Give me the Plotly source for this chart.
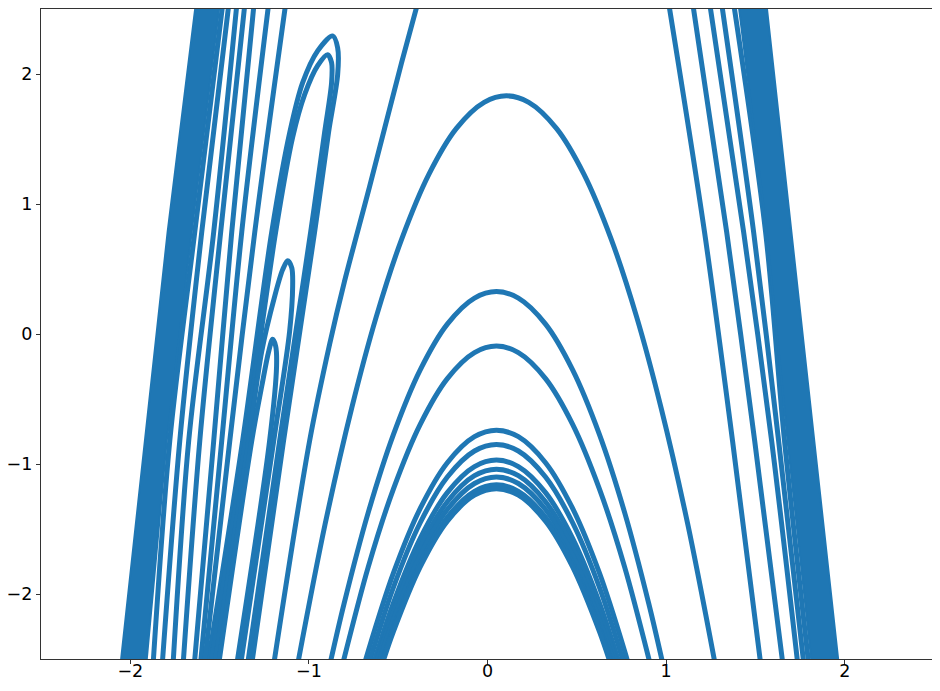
import plotly.graph_objects as go

BLUE = '#1f77b4'

# central arcs (data units)
arc_a_x = [-1.071, -0.91, -0.76, -0.623, -0.48, -0.327, -0.174, -0.019, 0.106, 0.231, 0.386, 0.539, 0.692, 0.835, 0.972, 1.122, 1.283]
arc_a_y = [-2.6, -1.468, -0.568, 0.132, 0.732, 1.232, 1.582, 1.782, 1.832, 1.782, 1.582, 1.232, 0.732, 0.132, -0.568, -1.468, -2.6]

arc_b_x = [-0.892, -0.803, -0.668, -0.527, -0.376, -0.225, -0.073, 0.05, 0.173, 0.325, 0.476, 0.627, 0.768, 0.903, 0.992]
arc_b_y = [-2.6, -2.074, -1.374, -0.774, -0.274, 0.076, 0.276, 0.326, 0.276, 0.076, -0.274, -0.774, -1.374, -2.074, -2.6]

arc_c_x = [-0.822, -0.668, -0.527, -0.376, -0.225, -0.073, 0.05, 0.173, 0.325, 0.476, 0.627, 0.768, 0.922]
arc_c_y = [-2.6, -1.793, -1.193, -0.693, -0.343, -0.143, -0.093, -0.143, -0.343, -0.693, -1.193, -1.793, -2.6]

arc_d_x = [-0.701, -0.668, -0.527, -0.376, -0.225, -0.073, 0.05, 0.173, 0.325, 0.476, 0.627, 0.768, 0.801]
arc_d_y = [-2.6, -2.44, -1.84, -1.34, -0.99, -0.79, -0.74, -0.79, -0.99, -1.34, -1.84, -2.44, -2.6]

arc_e_x = [-0.678, -0.527, -0.376, -0.225, -0.073, 0.05, 0.173, 0.325, 0.476, 0.627, 0.778]
arc_e_y = [-2.6, -1.95, -1.45, -1.10, -0.90, -0.85, -0.90, -1.10, -1.45, -1.95, -2.6]

arc_f_x = [-0.653, -0.527, -0.376, -0.225, -0.073, 0.05, 0.173, 0.325, 0.476, 0.627, 0.753]
arc_f_y = [-2.6, -2.07, -1.57, -1.22, -1.02, -0.97, -1.02, -1.22, -1.57, -2.07, -2.6]

arc_g_x = [-0.638, -0.527, -0.376, -0.225, -0.073, 0.05, 0.173, 0.325, 0.476, 0.627, 0.738]
arc_g_y = [-2.6, -2.14, -1.64, -1.29, -1.09, -1.04, -1.09, -1.29, -1.64, -2.14, -2.6]

arc_h_x = [-0.624, -0.527, -0.376, -0.225, -0.073, 0.05, 0.173, 0.325, 0.476, 0.627, 0.724]
arc_h_y = [-2.6, -2.20, -1.70, -1.35, -1.15, -1.10, -1.15, -1.35, -1.70, -2.20, -2.6]

arc_i_x = [-0.611, -0.527, -0.376, -0.225, -0.073, 0.05, 0.173, 0.325, 0.476, 0.627, 0.711]
arc_i_y = [-2.6, -2.26, -1.76, -1.41, -1.21, -1.16, -1.21, -1.41, -1.76, -2.26, -2.6]

arc_j_x = [-0.604, -0.527, -0.376, -0.225, -0.073, 0.05, 0.173, 0.325, 0.476, 0.627, 0.704]
arc_j_y = [-2.6, -2.29, -1.79, -1.44, -1.24, -1.19, -1.24, -1.44, -1.79, -2.29, -2.6]

# left side: two hairpins near (-0.9, 2.2), two small folds, the long line from the top
hp_outer_x = [-1.572, -1.371, -1.208, -1.107, -1.035, -0.951, -0.867, -0.839, -0.839, -0.890, -0.968, -1.142, -1.326]
hp_outer_y = [-2.597, -0.822, 0.785, 1.551, 1.933, 2.178, 2.293, 2.201, 1.995, 1.551, 0.785, -0.822, -2.597]
hp_inner_x = [-1.555, -1.354, -1.186, -1.091, -1.024, -0.951, -0.895, -0.873, -0.873, -0.912, -0.990, -1.164, -1.349]
hp_inner_y = [-2.597, -0.822, 0.785, 1.513, 1.841, 2.064, 2.148, 2.087, 1.933, 1.551, 0.785, -0.822, -2.597]

fold1_x = [-1.533, -1.337, -1.264, -1.192, -1.147, -1.119, -1.096, -1.091, -1.108, -1.197, -1.388]
fold1_y = [-2.597, -0.822, -0.133, 0.288, 0.495, 0.564, 0.510, 0.365, 0.020, -0.822, -2.597]
fold2_x = [-1.511, -1.320, -1.264, -1.225, -1.203, -1.186, -1.181, -1.220, -1.410]
fold2_y = [-2.597, -0.822, -0.401, -0.133, -0.041, -0.094, -0.247, -0.822, -2.597]

top_line_x = [-0.380, -0.481, -0.661, -0.801, -0.884, -0.996, -1.203]
top_line_y = [2.6, 2.087, 1.130, 0.403, -0.079, -0.822, -2.597]

# near-straight lines beside the two dense bundles, at these heights
line_y = [-2.597, -0.822, 0.785, 2.6]
left_lines_x = [
    [-1.875, -1.779, -1.639, -1.477],
    [-1.824, -1.723, -1.600, -1.443],
    [-1.763, -1.673, -1.533, -1.399],
    [-1.707, -1.611, -1.494, -1.354],
    [-1.645, -1.533, -1.432, -1.303],
    [-1.611, -1.488, -1.376, -1.220],
    [-1.589, -1.443, -1.303, -1.124],
]
left_band_lo = [-2.059, -1.919, -1.791, -1.628]
left_band_hi = [-1.914, -1.796, -1.656, -1.494]

right_lines_x = [
    [1.535, 1.372, 1.215, 1.008],
    [1.659, 1.496, 1.339, 1.143],
    [1.742, 1.591, 1.434, 1.238],
    [1.776, 1.630, 1.490, 1.305],
    [1.803, 1.663, 1.557, 1.372],
]
right_band_lo = [1.820, 1.680, 1.563, 1.400]
right_band_hi = [1.971, 1.831, 1.703, 1.557]

fig = go.Figure()


def add_curve(xs, ys):
    fig.add_trace(go.Scatter(x=xs, y=ys, mode='lines',
                             line=dict(color=BLUE, width=5, shape='spline', smoothing=0.9),
                             hoverinfo='skip'))


def add_band(lo, hi, ys):
    fig.add_trace(go.Scatter(x=lo + hi[::-1], y=ys + ys[::-1], mode='lines',
                             fill='toself', fillcolor=BLUE,
                             line=dict(color=BLUE, width=2),
                             hoverinfo='skip'))


for xs, ys in [(arc_a_x, arc_a_y), (arc_b_x, arc_b_y), (arc_c_x, arc_c_y),
               (arc_d_x, arc_d_y), (arc_e_x, arc_e_y), (arc_f_x, arc_f_y),
               (arc_g_x, arc_g_y), (arc_h_x, arc_h_y), (arc_i_x, arc_i_y),
               (arc_j_x, arc_j_y), (hp_outer_x, hp_outer_y), (hp_inner_x, hp_inner_y),
               (fold1_x, fold1_y), (fold2_x, fold2_y), (top_line_x, top_line_y)]:
    add_curve(xs, ys)

for xs in left_lines_x + right_lines_x:
    add_curve(xs, line_y)

add_band(left_band_lo, left_band_hi, line_y)
add_band(right_band_lo, right_band_hi, line_y)

ticks = [-2, -1, 0, 1, 2]
tick_text = ['\u22122', '\u22121', '0', '1', '2']
axis_style = dict(range=[-2.5, 2.5], tickvals=ticks, ticktext=tick_text,
                  showgrid=False, zeroline=False, showline=True, linecolor='#333',
                  linewidth=1.3, mirror=True, ticks='outside', ticklen=4,
                  tickcolor='#333', automargin=False,
                  tickfont=dict(family='DejaVu Sans', size=17.5, color='black'))

# the page body adds 8px around the figure: keep the figure small enough
# that the page does not scroll, and set margins 8px smaller
fig.update_layout(
    width=932, height=675,
    margin=dict(l=33, r=6, t=0.7, b=24, autoexpand=False),
    paper_bgcolor='white', plot_bgcolor='white',
    showlegend=False,
    xaxis=dict(axis_style, ticklabelstandoff=-8),
    yaxis=axis_style,
)

fig.write_html("out.html")
